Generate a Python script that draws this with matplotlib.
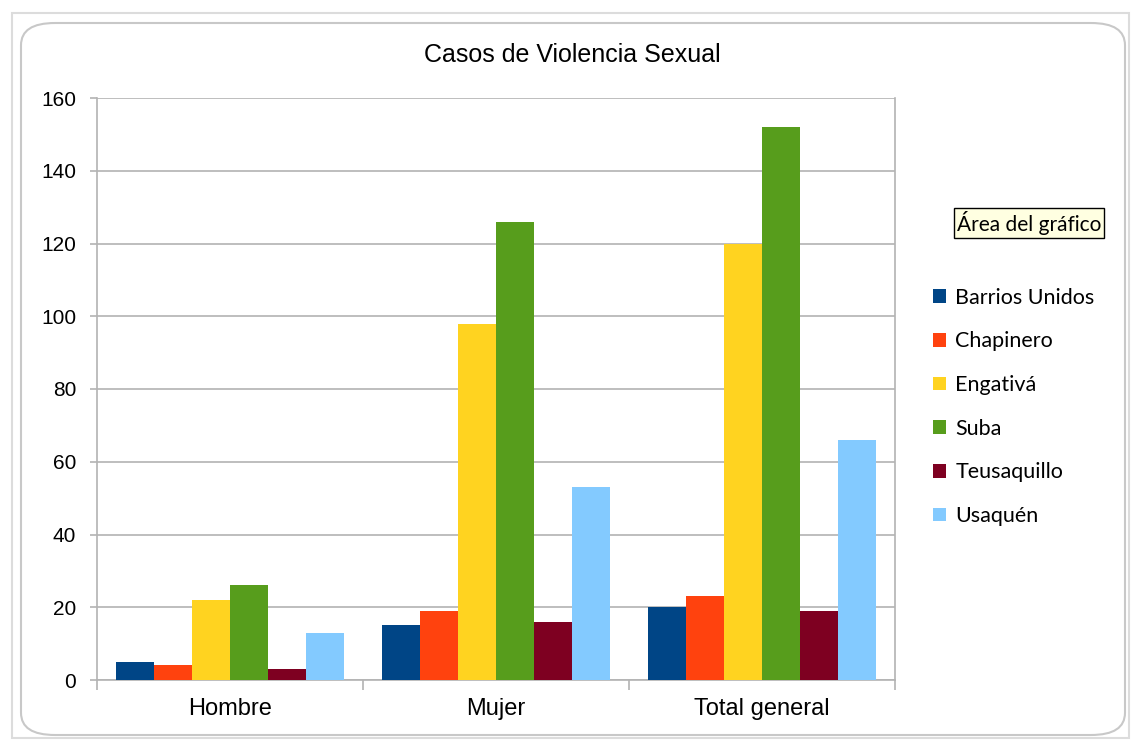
import matplotlib
matplotlib.use("Agg")
import matplotlib.pyplot as plt
import numpy as np
from matplotlib.patches import FancyBboxPatch
from matplotlib.ticker import FixedLocator

####################DATA############################
categorias = ['Hombre', 'Mujer', 'Total general']
series = ['Barrios Unidos', 'Chapinero', 'Engativá', 'Suba', 'Teusaquillo', 'Usaquén']
barrios_unidos = [5, 15, 20]
chapinero = [4, 19, 23]
engativa = [22, 98, 120]
suba = [26, 126, 152]
teusaquillo = [3, 16, 19]
usaquen = [13, 53, 66]
colores = ['#004586', '#FF420E', '#FFD320', '#579D1C', '#7E0021', '#83CAFF']
y_ticks = [0, 20, 40, 60, 80, 100, 120, 140, 160]
####################################################

valores = [barrios_unidos, chapinero, engativa, suba, teusaquillo, usaquen]

fig = plt.figure(figsize=(11.32, 7.4), dpi=100)
ax = fig.add_axes([97/1132, 60/740, 798/1132, 582/740])

x = np.arange(len(categorias))
ancho = 0.143
for i, (nombre, vals) in enumerate(zip(series, valores)):
    ax.bar(x + (i - 2.5) * ancho, vals, width=ancho, color=colores[i],
           label=nombre, zorder=3)

ax.set_xlim(-0.5, 2.5)
ax.set_ylim(0, 160)
ax.set_yticks(y_ticks)
ax.set_xticks(x)
ax.set_xticklabels(categorias, fontsize=17, family='Liberation Sans')
ax.xaxis.set_minor_locator(FixedLocator([-0.5, 0.5, 1.5, 2.5]))
ax.tick_params(axis='x', which='major', length=0, pad=13)
ax.tick_params(axis='x', which='minor', length=7, color='#b3b3b3', width=1.2)
ax.tick_params(axis='y', length=5, color='#b3b3b3', width=1.2, labelsize=15, pad=10)
for lab in ax.get_yticklabels():
    lab.set_family('Liberation Sans')

ax.grid(axis='y', color='#b3b3b3', linewidth=1.2, zorder=0)
for s in ['left', 'right', 'bottom']:
    ax.spines[s].set_color('#b3b3b3')
    ax.spines[s].set_linewidth(1.2)
ax.spines['top'].set_visible(False)

fig.text(572/1132, 1 - 55/740, 'Casos de Violencia Sexual', ha='center', va='center',
         fontsize=18, family='Liberation Sans')

leg = fig.legend(loc='upper left', bbox_to_anchor=(924/1132, 1 - 279/740),
                 frameon=False, prop={'family': 'Lato', 'size': 15.5},
                 handlelength=0.6, handleheight=0.6, handletextpad=0.45,
                 labelspacing=1.1, borderaxespad=0)

# tooltip
fig.text(1029/1132, 1 - 223/740, 'Área del gráfico', ha='center', va='center',
         fontsize=15, family='Lato',
         bbox=dict(boxstyle='square,pad=0.15', facecolor='#ffffe1', edgecolor='black', linewidth=1))

# marco redondeado exterior
marco = FancyBboxPatch((21/1132, 5/740), 1104/1132, 712/740,
                       boxstyle='round,pad=0,rounding_size=0.03',
                       transform=fig.transFigure, facecolor='none',
                       edgecolor='#c8c8c8', linewidth=1.5)
fig.patches.append(marco)
marco2 = FancyBboxPatch((12/1132, 2/740), 1117/1132, 725/740,
                        boxstyle='square,pad=0',
                        transform=fig.transFigure, facecolor='none',
                        edgecolor='#dcdcdc', linewidth=1.5)
fig.patches.append(marco2)

fig.savefig('out.png', dpi=100)
